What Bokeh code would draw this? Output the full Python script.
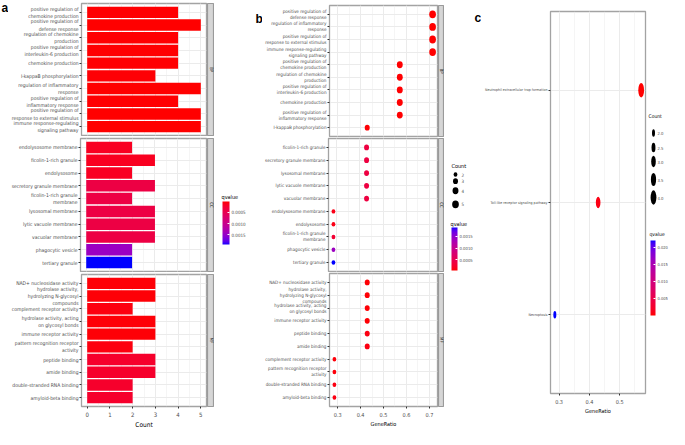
import math
from bokeh.plotting import figure
from bokeh.layouts import row, column
from bokeh.models import (ColumnDataSource, FactorRange, Range1d, LinearColorMapper, ColorBar,
                          FixedTicker, SingleIntervalTicker, PrintfTickFormatter, Label)
from bokeh.transform import transform
from bokeh.core.properties import value
from bokeh.embed import file_html
from bokeh.resources import INLINE

# ---------------- data: panel a (GO bar chart, Count) ----------------
A_BP_TERMS = ["positive regulation of\nchemokine production", "positive regulation of\ndefense response",
              "regulation of chemokine\nproduction", "positive regulation of\ninterleukin-6 production",
              "chemokine production", "I-kappaB phosphorylation", "regulation of inflammatory\nresponse",
              "positive regulation of\ninflammatory response", "positive regulation of\nresponse to external stimulus",
              "immune response-regulating\nsignaling pathway"]
A_BP_COUNT = [4, 5, 4, 4, 4, 3, 5, 4, 5, 5]
A_BP_Q = [0.00002, 0.00001, 0.00002, 0.00002, 0.00002, 0.00003, 0.00001, 0.00002, 0.00001, 0.00001]

A_CC_TERMS = ["endolysosome membrane", "ficolin-1-rich granule", "endolysosome", "secretory granule membrane",
              "ficolin-1-rich granule\nmembrane", "lysosomal membrane", "lytic vacuole membrane",
              "vacuolar membrane", "phagocytic vesicle", "tertiary granule"]
A_CC_COUNT = [2, 3, 2, 3, 2, 3, 3, 3, 2, 2]
A_CC_Q = [0.00016, 0.00014, 0.00016, 0.00040, 0.00040, 0.00040, 0.00040, 0.00040, 0.00145, 0.00194]

A_MF_TERMS = ["NAD+ nucleosidase activity", "hydrolase activity,\nhydrolyzing N-glycosyl\ncompounds",
              "complement receptor activity", "hydrolase activity, acting\non glycosyl bonds",
              "immune receptor activity", "pattern recognition receptor\nactivity", "peptide binding",
              "amide binding", "double-stranded RNA binding", "amyloid-beta binding"]
A_MF_COUNT = [3, 3, 2, 3, 3, 2, 3, 3, 2, 2]
A_MF_Q = [0.00004, 0.00004, 0.00006, 0.00004, 0.00004, 0.00006, 0.00022, 0.00022, 0.00022, 0.00022]

# ---------------- data: panel b (GO dot plot, GeneRatio) ----------------
B_BP_TERMS = ["positive regulation of\ndefense response", "regulation of inflammatory\nresponse",
              "positive regulation of\nresponse to external stimulus", "immune response-regulating\nsignaling pathway",
              "positive regulation of\nchemokine production", "regulation of chemokine\nproduction",
              "positive regulation of\ninterleukin-6 production", "chemokine production",
              "positive regulation of\ninflammatory response", "I-kappaB phosphorylation"]
B_BP_RATIO = [0.714, 0.714, 0.714, 0.714, 0.571, 0.571, 0.571, 0.571, 0.571, 0.429]
B_BP_COUNT = [5, 5, 5, 5, 4, 4, 4, 4, 4, 3]
B_BP_Q = [0.00006, 0.00006, 0.00006, 0.00006, 0.00007, 0.00007, 0.00007, 0.00007, 0.00007, 0.00008]

B_CC_TERMS = ["ficolin-1-rich granule", "secretory granule membrane", "lysosomal membrane",
              "lytic vacuole membrane", "vacuolar membrane", "endolysosome membrane", "endolysosome",
              "ficolin-1-rich granule\nmembrane", "phagocytic vesicle", "tertiary granule"]
B_CC_RATIO = [0.429, 0.429, 0.429, 0.429, 0.429, 0.286, 0.286, 0.286, 0.286, 0.286]
B_CC_COUNT = [3, 3, 3, 3, 3, 2, 2, 2, 2, 2]
B_CC_Q = [0.00040, 0.00040, 0.00040, 0.00040, 0.00040, 0.00014, 0.00014, 0.00030, 0.00140, 0.00186]

B_MF_TERMS = ["NAD+ nucleosidase activity", "hydrolase activity,\nhydrolyzing N-glycosyl\ncompounds",
              "hydrolase activity, acting\non glycosyl bonds", "immune receptor activity", "peptide binding",
              "amide binding", "complement receptor activity", "pattern recognition receptor\nactivity",
              "double-stranded RNA binding", "amyloid-beta binding"]
B_MF_RATIO = [0.429, 0.429, 0.429, 0.429, 0.429, 0.429, 0.286, 0.286, 0.286, 0.286]
B_MF_COUNT = [3, 3, 3, 3, 3, 3, 2, 2, 2, 2]
B_MF_Q = [0.00008, 0.00008, 0.00008, 0.00008, 0.00012, 0.00012, 0.00009, 0.00009, 0.00012, 0.00012]

# ---------------- data: panel c (KEGG dot plot) ----------------
C_TERMS = ["Neutrophil extracellular trap formation", "Toll-like receptor signaling pathway", "Necroptosis"]
C_RATIO = [0.571, 0.429, 0.286]
C_COUNT = [4, 3, 2]
C_Q = [0.0002, 0.0010, 0.0220]

FACETS = ["BP", "CC", "MF"]
PANEL_LETTERS = ["a", "b", "c"]
A_Q_TICKS = [0.0005, 0.0010, 0.0015]
B_Q_TICKS = [0.0005, 0.0010, 0.0015]
C_Q_TICKS = [0.005, 0.010, 0.015, 0.020]
B_COUNT_BREAKS = [2, 3, 4, 5]
C_COUNT_BREAKS = [2.0, 2.5, 3.0, 3.5, 4.0]

# ---------------- styling helpers ----------------
FONT = "Liberation Sans Narrow, Arial Narrow, DejaVu Sans Condensed, sans-serif"
AXIS_TEXT = "#4d4d4d"
GRID = "#ebebeb"
BORDER = "#a3a3a3"
STRIP_FILL = "#d6d6d6"
STRIP_LINE = "#9a9a9a"
TOTAL_H = 427


def _to_lin(c):
    c /= 255.0
    return c / 12.92 if c <= 0.04045 else ((c + 0.055) / 1.055) ** 2.4


def _from_lin(c):
    c = min(max(c, 0.0), 1.0)
    c = 12.92 * c if c <= 0.0031308 else 1.055 * c ** (1 / 2.4) - 0.055
    return int(round(c * 255))


def _lab(rgb):
    r, g, b = (_to_lin(float(v)) for v in rgb)
    x = (0.4124 * r + 0.3576 * g + 0.1805 * b) / 0.95047
    y = 0.2126 * r + 0.7152 * g + 0.0722 * b
    z = (0.0193 * r + 0.1192 * g + 0.9505 * b) / 1.08883
    f = lambda t: t ** (1 / 3) if t > 0.008856 else 7.787 * t + 16 / 116
    fx, fy, fz = f(x), f(y), f(z)
    return 116 * fy - 16, 500 * (fx - fy), 200 * (fy - fz)


def _hex(lab):
    L, a, b = lab
    fy = (L + 16) / 116
    fx = fy + a / 500
    fz = fy - b / 200
    finv = lambda t: t ** 3 if t ** 3 > 0.008856 else (t - 16 / 116) / 7.787
    x = finv(fx) * 0.95047
    y = finv(fy)
    z = finv(fz) * 1.08883
    r = 3.2406 * x - 1.5372 * y - 0.4986 * z
    g = -0.9689 * x + 1.8758 * y + 0.0415 * z
    bb = 0.0557 * x - 0.2040 * y + 1.0570 * z
    return "#%02x%02x%02x" % (_from_lin(r), _from_lin(g), _from_lin(bb))


def lab_gradient(c0, c1, n=256):
    l0, l1 = _lab(c0), _lab(c1)
    return [_hex(tuple(l0[k] + (l1[k] - l0[k]) * i / (n - 1) for k in range(3))) for i in range(n)]


PAL = lab_gradient((255, 0, 0), (0, 0, 255))   # low q = red, high q = blue


def padded(lo, hi, frac=0.05):
    d = (hi - lo) * frac
    return Range1d(lo - d, hi + d)


def dims(counts, cmin, cmax, hmin, hmax, aspect):
    hs = [math.sqrt(hmin ** 2 + (hmax ** 2 - hmin ** 2) * (c - cmin) / (cmax - cmin)) for c in counts]
    return [h * aspect for h in hs], hs


def facet_fig(terms, x_range, width, fh, left, right, top, bottom, show_x):
    p = figure(x_range=x_range,
               y_range=FactorRange(factors=list(reversed(terms)), range_padding=0.2,
                                   range_padding_units="absolute"),
               width=width, frame_height=fh, min_border=0, min_border_left=left,
               min_border_right=right, min_border_top=top, min_border_bottom=bottom,
               x_axis_location="below" if show_x else None, align="start",
               toolbar_location=None, output_backend="svg")
    return p


def style_fig(p, xticker, label_fs, tick_fs, title_fs, xlabel):
    p.outline_line_color = BORDER
    p.outline_line_width = 1.3
    p.background_fill_color = "white"
    p.xgrid.ticker = xticker
    p.xgrid.grid_line_color = GRID
    p.xgrid.grid_line_width = 1
    p.xgrid.minor_grid_line_color = GRID
    p.xgrid.minor_grid_line_width = 0.5
    p.ygrid.grid_line_color = GRID
    p.ygrid.grid_line_width = 1
    yax = p.yaxis[0]
    yax.axis_line_color = None
    yax.major_tick_line_color = "#333333"
    yax.major_tick_out = 2
    yax.major_tick_in = 0
    yax.major_label_standoff = 1
    yax.major_label_text_font = FONT
    yax.major_label_text_font_size = label_fs
    yax.major_label_text_color = AXIS_TEXT
    yax.major_label_text_line_height = 1.2
    if p.xaxis:
        xax = p.xaxis[0]
        xax.ticker = xticker
        xax.axis_line_color = None
        xax.major_tick_line_color = "#333333"
        xax.major_tick_out = 2
        xax.major_tick_in = 0
        xax.minor_tick_line_color = None
        xax.major_label_standoff = 1
        xax.major_label_text_font = FONT
        xax.major_label_text_font_size = tick_fs
        xax.major_label_text_color = AXIS_TEXT
        xax.axis_label = xlabel
        xax.axis_label_standoff = 1
        xax.axis_label_text_font = FONT
        xax.axis_label_text_font_size = title_fs
        xax.axis_label_text_font_style = "normal"
        xax.axis_label_text_color = "black"


def strip_fig(text, fw, fh, top, bottom):
    s = figure(x_range=Range1d(0, 1), y_range=Range1d(0, 1), frame_width=fw, frame_height=fh,
               min_border=0, min_border_top=top, min_border_bottom=bottom, align="start",
               x_axis_location=None, y_axis_location=None, toolbar_location=None, output_backend="svg")
    s.grid.visible = False
    s.background_fill_color = STRIP_FILL
    s.outline_line_color = STRIP_LINE
    s.outline_line_width = 1.2
    s.add_layout(Label(x=0.5, y=0.5, text=text, angle=-math.pi / 2, text_align="center",
                       text_baseline="middle", text_font=FONT, text_font_size="4.5px",
                       text_color="#1a1a1a"))
    return s


def legend_fig(w, h):
    # a blank figure whose data units are pixels from its top-left corner
    f = figure(x_range=Range1d(0, w), y_range=Range1d(h, 0), frame_width=w, frame_height=h,
               min_border=0, x_axis_location=None, y_axis_location=None, align="start",
               toolbar_location=None, output_backend="svg")
    f.grid.visible = False
    f.outline_line_color = None
    return f


def colorbar_legend(f, mapper, ticks, fmt, x, title_y, top, bottom, width, h, label_fs, title_fs):
    f.add_layout(Label(x=x - 1, y=title_y, text="qvalue", text_font=FONT, text_font_size=title_fs,
                       text_baseline="middle", text_color="black"))
    f.add_layout(ColorBar(color_mapper=mapper, ticker=FixedTicker(ticks=ticks),
                          formatter=PrintfTickFormatter(format=fmt),
                          location=(x, h - bottom), width=width, height=bottom - top,
                          padding=0, margin=0, title=None,
                          major_label_text_font=FONT, major_label_text_font_size=label_fs,
                          major_label_text_color=AXIS_TEXT, label_standoff=2,
                          major_tick_line_color="white", major_tick_in=2, major_tick_out=0,
                          minor_tick_line_color=None, bar_line_color=None,
                          background_fill_color=None, border_line_color=None), "center")


def letter(f, text, x, y):
    f.add_layout(Label(x=x, y=y, text=text, text_font="Liberation Sans, Arial, sans-serif",
                       text_font_size="12px", text_font_style="bold", text_baseline="top",
                       text_align="left", text_color="black"))


# ---------------- panel a ----------------
a_all_q = A_BP_Q + A_CC_Q + A_MF_Q
a_all_count = A_BP_COUNT + A_CC_COUNT + A_MF_COUNT
map_a = LinearColorMapper(palette=list(reversed(PAL)), low=max(a_all_q), high=min(a_all_q))
xr_a = padded(0, max(a_all_count))
A_LEFT, A_FW, A_STRIP = 67, 131, 7
a_geo = [(3, 132, 1), (2, 133, 1), (2, 132, 21)]          # 136 + 136 + 155 = 427
a_rows = []
for i, (terms, counts, qs) in enumerate([(A_BP_TERMS, A_BP_COUNT, A_BP_Q),
                                          (A_CC_TERMS, A_CC_COUNT, A_CC_Q),
                                          (A_MF_TERMS, A_MF_COUNT, A_MF_Q)]):
    top, fh, bottom = a_geo[i]
    p = facet_fig(terms, xr_a, A_LEFT + A_FW + 1, fh, A_LEFT, 1, top, bottom, i == 2)
    src = ColumnDataSource(dict(term=terms, count=counts, q=qs))
    p.hbar(y="term", left=0, right="count", height=0.9, source=src,
           fill_color=transform("q", map_a), line_color=None)
    style_fig(p, SingleIntervalTicker(interval=1, num_minor_ticks=2), "5px", "6px", "6.5px", "Count")
    a_rows.append(row(p, strip_fig(FACETS[i], A_STRIP, fh, top, bottom), align="start"))
gutter_a = legend_fig(8, TOTAL_H)
letter(gutter_a, PANEL_LETTERS[0], 1, 0)
col_a = row(gutter_a, column(*a_rows, align="start"), align="start")

leg_a = legend_fig(48, TOTAL_H)
colorbar_legend(leg_a, map_a, A_Q_TICKS, "%.4f", 8, 185, 190, 233, 7, TOTAL_H, "4.5px", "5.5px")
letter(leg_a, PANEL_LETTERS[1], 41, 0)

# ---------------- panel b ----------------
b_all_q = B_BP_Q + B_CC_Q + B_MF_Q
b_all_ratio = B_BP_RATIO + B_CC_RATIO + B_MF_RATIO
b_all_count = B_BP_COUNT + B_CC_COUNT + B_MF_COUNT
map_b = LinearColorMapper(palette=PAL, low=min(b_all_q), high=max(b_all_q))
xr_b = padded(min(b_all_ratio), max(b_all_ratio))
b_cmin, b_cmax = min(b_all_count), max(b_all_count)
B_LEFT, B_FW, B_STRIP = 61, 114, 6
b_geo = [(5, 131, 1), (1, 133, 1), (1, 133, 21)]          # 137 + 135 + 155 = 427
b_rows = []
for i, (terms, ratios, counts, qs) in enumerate([(B_BP_TERMS, B_BP_RATIO, B_BP_COUNT, B_BP_Q),
                                                  (B_CC_TERMS, B_CC_RATIO, B_CC_COUNT, B_CC_Q),
                                                  (B_MF_TERMS, B_MF_RATIO, B_MF_COUNT, B_MF_Q)]):
    top, fh, bottom = b_geo[i]
    p = facet_fig(terms, xr_b, B_LEFT + B_FW + 1, fh, B_LEFT, 1, top, bottom, i == 2)
    w, h = dims(counts, b_cmin, b_cmax, 4.4, 7.8, 0.86)
    src = ColumnDataSource(dict(term=terms, ratio=ratios, q=qs, w=w, h=h))
    p.ellipse(x="ratio", y="term", width="w", height="h", width_units="screen", height_units="screen",
              source=src, fill_color=transform("q", map_b), line_color=None)
    style_fig(p, SingleIntervalTicker(interval=0.1, num_minor_ticks=2), "4.6px", "5.5px", "5.5px", "GeneRatio")
    b_rows.append(row(p, strip_fig(FACETS[i], B_STRIP, fh, top, bottom), align="start"))
col_b = column(*b_rows, align="start")

leg_b = legend_fig(37, TOTAL_H)
leg_b.add_layout(Label(x=7, y=154, text="Count", text_font=FONT, text_font_size="5.5px",
                       text_baseline="middle", text_color="black"))
kb_w, kb_h = dims(B_COUNT_BREAKS, b_cmin, b_cmax, 4.4, 7.8, 0.86)
kb_y = [163, 169.7, 179.3, 192.8]
leg_b.ellipse(x=[11] * len(B_COUNT_BREAKS), y=kb_y, width=kb_w, height=kb_h,
              width_units="screen", height_units="screen", fill_color="black", line_color=None)
leg_b.text(x=[17] * len(B_COUNT_BREAKS), y=kb_y, text=[str(v) for v in B_COUNT_BREAKS],
           text_font=value(FONT), text_font_size="4.5px", text_baseline="middle", text_color=AXIS_TEXT)
colorbar_legend(leg_b, map_b, B_Q_TICKS, "%.4f", 7, 212, 216, 259, 6, TOTAL_H, "4.2px", "5.5px")
letter(leg_b, PANEL_LETTERS[2], 30, -1)

# ---------------- panel c ----------------
map_c = LinearColorMapper(palette=PAL, low=min(C_Q), high=max(C_Q))
xr_c = padded(min(C_RATIO), max(C_RATIO))
c_cmin, c_cmax = min(C_COUNT), max(C_COUNT)
C_LEFT, C_FH, C_TOP = 59, 382, 11
pc = figure(x_range=xr_c,
            y_range=FactorRange(factors=list(reversed(C_TERMS)), range_padding=0.2,
                                range_padding_units="absolute"),
            width=166, frame_height=C_FH, min_border=0, min_border_left=C_LEFT,
            min_border_right=2, min_border_top=C_TOP, min_border_bottom=TOTAL_H - C_TOP - C_FH,
            align="start", toolbar_location=None, output_backend="svg")
cw, ch = dims(C_COUNT, c_cmin, c_cmax, 7.5, 14.5, 0.4)
src_c = ColumnDataSource(dict(term=C_TERMS, ratio=C_RATIO, q=C_Q, w=cw, h=ch))
pc.ellipse(x="ratio", y="term", width="w", height="h", width_units="screen", height_units="screen",
           source=src_c, fill_color=transform("q", map_c), line_color=None)
style_fig(pc, SingleIntervalTicker(interval=0.1, num_minor_ticks=2), "3.6px", "5.5px", "5.5px", "GeneRatio")

leg_c = legend_fig(22, TOTAL_H)
leg_c.add_layout(Label(x=1, y=104, text="Count", text_font=FONT, text_font_size="5px",
                       text_baseline="middle", text_color="black"))
kc_w, kc_h = dims(C_COUNT_BREAKS, c_cmin, c_cmax, 7.5, 14.5, 0.4)
kc_y = [121.5, 136, 150, 168, 186]
leg_c.ellipse(x=[6] * len(C_COUNT_BREAKS), y=kc_y, width=kc_w, height=kc_h,
              width_units="screen", height_units="screen", fill_color="black", line_color=None)
leg_c.text(x=[10] * len(C_COUNT_BREAKS), y=kc_y, text=["%.1f" % v for v in C_COUNT_BREAKS],
           text_font=value(FONT), text_font_size="4.2px", text_baseline="middle", text_color=AXIS_TEXT)
colorbar_legend(leg_c, map_c, C_Q_TICKS, "%.3f", 3, 222, 229, 304, 5, TOTAL_H, "4px", "5px")

layout = row(col_a, leg_a, col_b, leg_b, pc, leg_c, align="start")
open("out.html", "w").write(file_html(layout, INLINE))
